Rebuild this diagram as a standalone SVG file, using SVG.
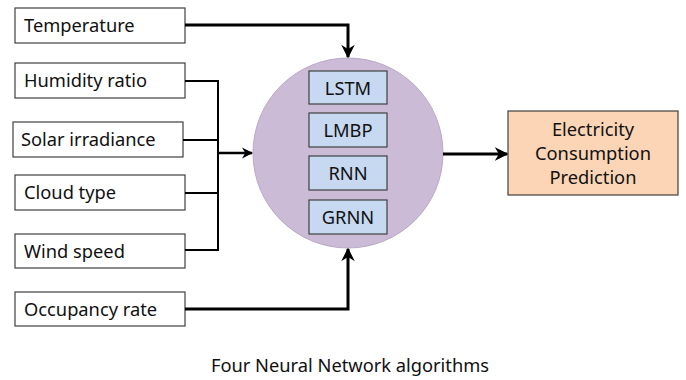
<svg xmlns="http://www.w3.org/2000/svg" width="686" height="380" viewBox="0 0 686 380">
<defs>
<marker id="ah" viewBox="0 0 10 10" refX="9" refY="5" markerWidth="4.5" markerHeight="4.5" markerUnits="strokeWidth" orient="auto">
<path d="M0,0 L10,5 L0,10 L3,5 Z" fill="#000"/>
</marker>
<style>
.in{fill:#fff;stroke:#404040;stroke-width:1.2}
.alg{fill:#c6d9f1;stroke:#404040;stroke-width:1.2}
.t{font-family:"Noto Sans","Open Sans",sans-serif;font-size:18.3px;fill:#111}
.c{text-anchor:middle}
.ln{fill:none;stroke:#000;stroke-linejoin:miter}
</style>
</defs>
<rect width="686" height="380" fill="#fff"/>
<g id="temperature"><rect class="in" x="15" y="8" width="170" height="35"/><text class="t" x="24" y="32">Temperature</text></g>
<g id="humidity"><rect class="in" x="15" y="63" width="170" height="35"/><text class="t" x="24" y="87">Humidity ratio</text></g>
<g id="solar"><rect class="in" x="13" y="122" width="170" height="35"/><text class="t" x="21" y="146">Solar irradiance</text></g>
<g id="cloud"><rect class="in" x="15" y="175" width="170" height="35"/><text class="t" x="24" y="199">Cloud type</text></g>
<g id="wind"><rect class="in" x="15" y="234" width="170" height="34"/><text class="t" x="24" y="258">Wind speed</text></g>
<g id="occupancy"><rect class="in" x="15" y="292" width="170" height="34"/><text class="t" x="24" y="316">Occupancy rate</text></g>
<g id="algorithms">
<circle cx="348" cy="153" r="95" fill="#cbbbd6" stroke="#b9a8c6" stroke-width="1"/>
<g id="lstm"><rect class="alg" x="309" y="71" width="78" height="33"/><text class="t c" x="348" y="94.5">LSTM</text></g>
<g id="lmbp"><rect class="alg" x="309" y="113" width="78" height="34"/><text class="t c" x="348" y="137">LMBP</text></g>
<g id="rnn"><rect class="alg" x="309" y="156" width="78" height="34"/><text class="t c" x="348" y="180">RNN</text></g>
<g id="grnn"><rect class="alg" x="309" y="200" width="78" height="34"/><text class="t c" x="348" y="224">GRNN</text></g>
</g>
<g id="output"><rect x="508" y="111" width="170" height="84" fill="#fbd5b5" stroke="#404040" stroke-width="1.2"/>
<text class="t c" x="593" y="136">Electricity</text>
<text class="t c" x="593" y="160">Consumption</text>
<text class="t c" x="593" y="184">Prediction</text></g>
<g id="connectors">
<path class="ln" stroke-width="3" d="M185,25 H348 V57" marker-end="url(#ah)"/>
<path class="ln" stroke-width="2" d="M185,81 H218 V250 H185"/>
<path class="ln" stroke-width="2" d="M183,140 H218"/>
<path class="ln" stroke-width="2" d="M185,193 H218"/>
<path class="ln" stroke-width="2.5" d="M218,153 H252" marker-end="url(#ah)"/>
<path class="ln" stroke-width="3" d="M185,309 H348 V249" marker-end="url(#ah)"/>
<path class="ln" stroke-width="3" d="M443,154 H507" marker-end="url(#ah)"/>
</g>
<text class="t c" x="350" y="372">Four Neural Network algorithms</text>
</svg>
